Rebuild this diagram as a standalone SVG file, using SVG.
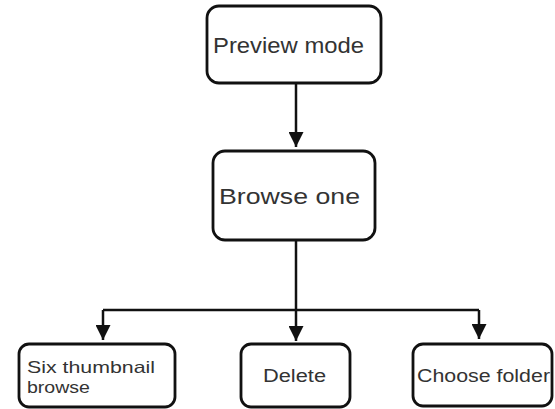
<svg xmlns="http://www.w3.org/2000/svg" width="555" height="409" viewBox="0 0 555 409">
<style>
.box{fill:#fff;stroke:#111;stroke-width:2.8}
.t{font-family:"Liberation Sans",Arial,sans-serif;fill:#333}
.c{fill:none;stroke:#111;stroke-width:2.5}
</style>
<defs>
<marker id="ah" viewBox="0 0 14 15" markerWidth="14" markerHeight="15" refX="15" refY="7.5" orient="auto" markerUnits="userSpaceOnUse">
<path d="M0,0 L15,7.5 L0,15 Z" fill="#111"/>
</marker>
</defs>
<rect width="555" height="409" fill="#fff"/>
<g id="connectors">
<path class="c" d="M296,83 V147" marker-end="url(#ah)"/>
<path class="c" d="M296,240 V341" marker-end="url(#ah)"/>
<path class="c" d="M103,310 H479"/>
<path class="c" d="M103,310 V340" marker-end="url(#ah)"/>
<path class="c" d="M479,310 V339" marker-end="url(#ah)"/>
</g>
<g id="preview">
<rect class="box" x="207" y="6" width="174" height="77" rx="12"/>
<text class="t" x="213" y="53" font-size="21.5" textLength="151" lengthAdjust="spacingAndGlyphs">Preview mode</text>
</g>
<g id="browse">
<rect class="box" x="213" y="151" width="162" height="89" rx="12"/>
<text class="t" x="219" y="204" font-size="22.5" textLength="141" lengthAdjust="spacingAndGlyphs">Browse one</text>
</g>
<g id="six">
<rect class="box" x="19" y="344" width="156" height="63" rx="10"/>
<text class="t" x="27" y="373" font-size="16.5" textLength="128" lengthAdjust="spacingAndGlyphs">Six thumbnail</text>
<text class="t" x="27" y="393" font-size="16.5" textLength="63" lengthAdjust="spacingAndGlyphs">browse</text>
</g>
<g id="delete">
<rect class="box" x="241" y="344" width="109" height="63" rx="10"/>
<text class="t" x="263" y="382" font-size="18" textLength="63" lengthAdjust="spacingAndGlyphs">Delete</text>
</g>
<g id="choose">
<rect class="box" x="413" y="344" width="139" height="62" rx="10"/>
<text class="t" x="417" y="382" font-size="18" textLength="133" lengthAdjust="spacingAndGlyphs">Choose folder</text>
</g>
</svg>
